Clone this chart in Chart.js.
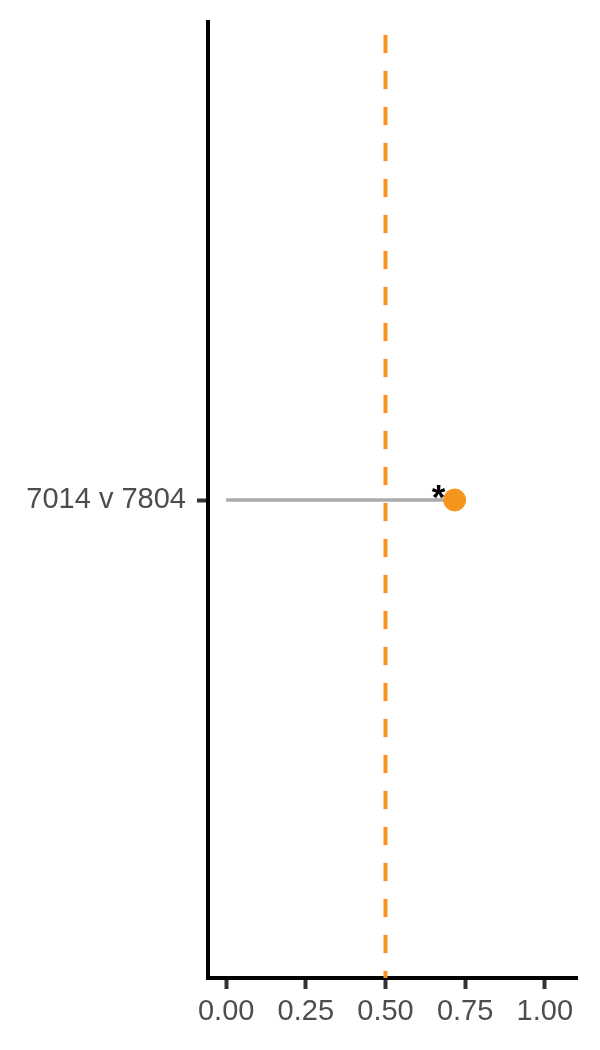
<!DOCTYPE html>
<html>
<head>
<meta charset="utf-8">
<script src="https://cdn.jsdelivr.net/npm/chart.js@4"></script>
<style>
  html, body { margin: 0; padding: 0; background: #fff; }
  #wrap { width: 600px; height: 1050px; }
</style>
</head>
<body>
<div id="wrap"><canvas id="lollipop" width="600" height="1050"></canvas></div>
<script>
// comparison labels and values
const comparisons = ["7014 v 7804"];
const scores = [0.717];
const signif = ["*"];
const refLine = 0.5;
const xTicks = [0, 0.25, 0.5, 0.75, 1.0];

const orange = "#f6951e";
const fontFamily = "'Liberation Sans', Arial, sans-serif";

// gray stems from 0 to each value
const stems = comparisons.map((c, i) => ({
  type: "line",
  data: [{x: 0, y: c}, {x: scores[i], y: c}],
  borderColor: "#ababab",
  borderWidth: 3.5,
  pointRadius: 0,
  order: 2
}));

// dashed reference line, drawn with the x scale
const refLinePlugin = {
  id: "refLine",
  beforeDatasetsDraw(chart) {
    const ctx = chart.ctx, area = chart.chartArea;
    const x = chart.scales.x.getPixelForValue(refLine);
    ctx.save();
    ctx.strokeStyle = orange;
    ctx.lineWidth = 4;
    ctx.setLineDash([18, 18]);
    ctx.lineDashOffset = 23;
    ctx.beginPath();
    ctx.moveTo(x, area.top);
    ctx.lineTo(x, area.bottom);
    ctx.stroke();
    ctx.restore();
  }
};

// significance stars left of the points
const starPlugin = {
  id: "stars",
  afterDatasetsDraw(chart) {
    const meta = chart.getDatasetMeta(chart.data.datasets.length - 1);
    const ctx = chart.ctx;
    ctx.save();
    ctx.fillStyle = "#000";
    ctx.font = "bold 35px " + fontFamily;
    ctx.textAlign = "center";
    ctx.textBaseline = "middle";
    meta.data.forEach((pt, i) => {
      ctx.fillText(signif[i], pt.x - 16, pt.y - 1);
    });
    ctx.restore();
  }
};

new Chart("lollipop", {
  type: "scatter",
  data: {
    labels: comparisons,
    datasets: [
      ...stems,
      {
        data: comparisons.map((c, i) => ({x: scores[i], y: c})),
        backgroundColor: orange,
        borderColor: orange,
        pointRadius: 11,
        pointHoverRadius: 11,
        order: 1
      }
    ]
  },
  options: {
    responsive: false,
    animation: false,
    layout: {padding: {left: 0, right: 23, top: 22, bottom: 0}},
    plugins: {legend: {display: false}, tooltip: {enabled: false}},
    scales: {
      x: {
        type: "linear",
        min: -0.057,
        max: 1.101,
        afterBuildTicks(scale) { scale.ticks = xTicks.map(v => ({value: v})); },
        afterFit(scale) {
          scale.height = 72;
          scale.paddingLeft = 0;
          scale.paddingRight = 0;
        },
        grid: {drawOnChartArea: false, drawTicks: true, tickLength: 11, tickWidth: 4, tickColor: "#333"},
        border: {display: true, color: "#000", width: 4},
        ticks: {
          color: "#4d4d4d",
          padding: 6,
          font: {family: fontFamily, size: 29},
          callback: v => Number(v).toFixed(2)
        }
      },
      y: {
        type: "category",
        labels: comparisons,
        offset: true,
        afterFit(scale) {
          scale.width = 208;
          scale.paddingTop = 0;
          scale.paddingBottom = 0;
        },
        grid: {drawOnChartArea: false, drawTicks: true, tickLength: 11, tickWidth: 4, tickColor: "#333"},
        border: {display: true, color: "#000", width: 4},
        ticks: {
          color: "#4d4d4d",
          padding: 11,
          font: {family: fontFamily, size: 29}
        }
      }
    }
  },
  plugins: [refLinePlugin, starPlugin]
});
</script>
</body>
</html>
